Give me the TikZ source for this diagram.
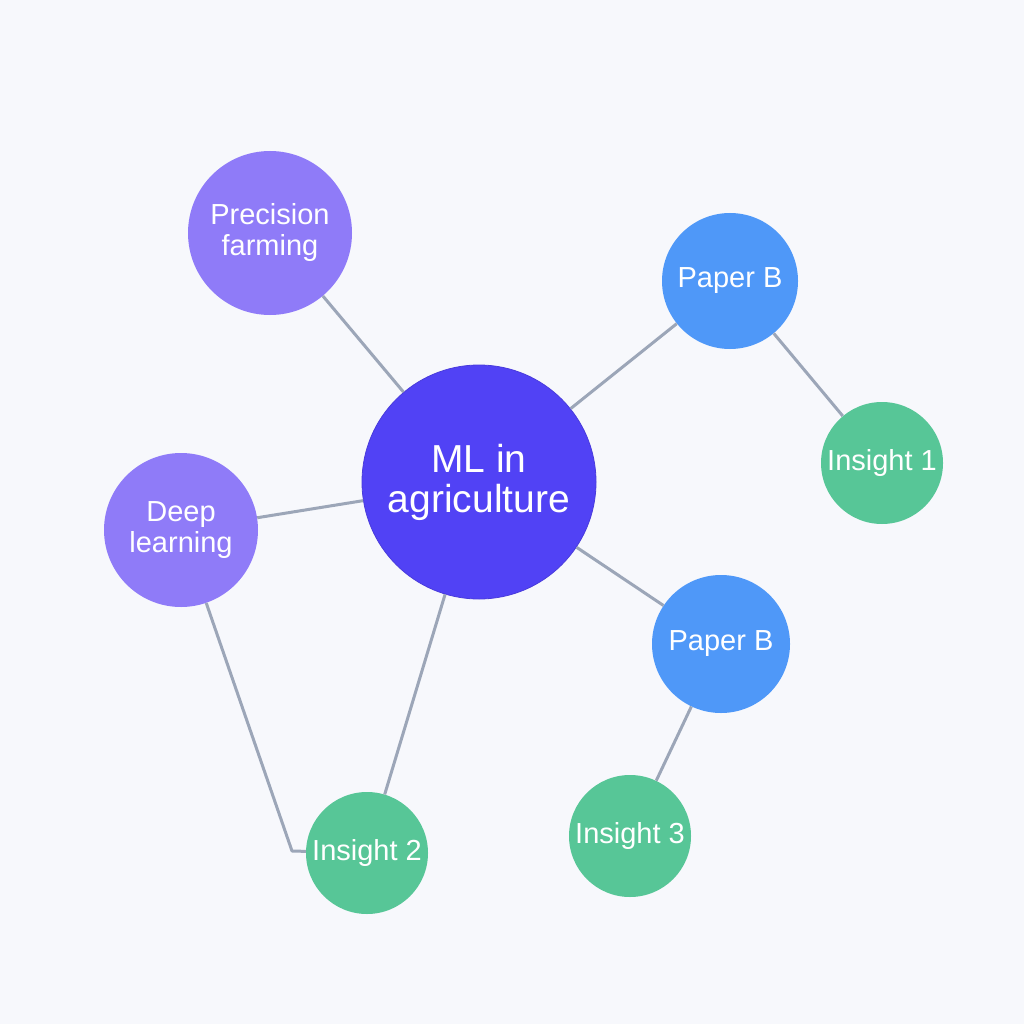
\documentclass[tikz,border=0pt]{standalone}
\usepackage{fontspec}
\setmainfont{Liberation Sans}
\definecolor{bgc}{HTML}{F7F8FC}
\definecolor{mainc}{HTML}{5142F5}
\definecolor{purp}{HTML}{8F7BF8}
\definecolor{bluec}{HTML}{4F98F8}
\definecolor{greenc}{HTML}{57C697}
\definecolor{edgec}{HTML}{9CA6B8}
\tikzset{
  bubble/.style={circle, inner sep=0pt, text=white, align=center, font=\fontsize{29}{31}\selectfont},
  hub/.style={bubble, fill=mainc, draw=mainc!90!black, line width=0.8pt, minimum size=234pt, font=\fontsize{39}{40}\selectfont},
  topic/.style={bubble, fill=purp},
  paper/.style={bubble, fill=bluec},
  insight/.style={bubble, fill=greenc, minimum size=122pt},
  link/.style={draw=edgec, line width=3pt}
}
\begin{document}
\begin{tikzpicture}[x=1pt,y=-1pt]
\fill[bgc] (0,0) rectangle (1024,1024);
\useasboundingbox (0,0) rectangle (1024,1024);
\node[hub] (ml) at (479,482) {ML in\\agriculture};
\node[topic, minimum size=164pt] (pf) at (270,233) {Precision\\farming};
\node[topic, minimum size=154pt] (dl) at (181,530) {Deep\\learning};
\node[paper, minimum size=136pt] (pb1) at (730,281) {Paper B};
\node[paper, minimum size=138pt] (pb2) at (721,644) {Paper B};
\node[insight] (i1) at (882,463) {Insight 1};
\node[insight] (i3) at (630,836) {Insight 3};
\node[insight] (i2) at (367,853) {Insight 2};
\coordinate (bend) at (292,851);
\path[link] (ml) -- (pf);
\path[link] (ml) -- (pb1);
\path[link] (pb1) -- (i1);
\path[link] (ml) -- (dl);
\path[link] (ml) -- (pb2);
\path[link] (pb2) -- (i3);
\path[link] (ml) -- (i2);
\path[link, line join=round] (dl) -- (bend) -- (i2);
\end{tikzpicture}
\end{document}
